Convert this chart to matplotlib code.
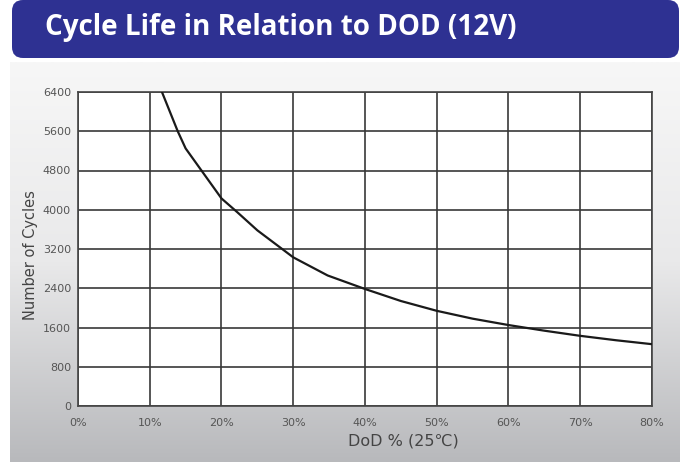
import matplotlib
matplotlib.use("Agg")
import matplotlib.pyplot as plt
from matplotlib.patches import FancyBboxPatch
from matplotlib.colors import LinearSegmentedColormap
import numpy as np

# Data
dod = [11.7, 13.9, 15.0, 17.5, 20, 22.2, 25, 30, 34.8, 40, 45, 50, 55, 60, 65, 70, 75, 80]
cycles = [6400, 5600, 5250, 4740, 4230, 3950, 3580, 3030, 2660, 2385, 2140, 1940, 1780,
          1650, 1535, 1430, 1340, 1260]
x_ticks = [0, 10, 20, 30, 40, 50, 60, 70, 80]
x_tick_labels = [f"{v}%" for v in x_ticks]
y_ticks = [0, 800, 1600, 2400, 3200, 4000, 4800, 5600, 6400]
title = "Cycle Life in Relation to DOD (12V)"
y_label = "Number of Cycles"
x_label = "DoD % (25\u2103)"

W, H = 683, 462
fig = plt.figure(figsize=(W / 100, H / 100), dpi=100)
fig.patch.set_facecolor("white")

# Background layer in pixel coordinates
bg = fig.add_axes([0, 0, 1, 1])
bg.axis("off")
cmap = LinearSegmentedColormap.from_list("g", ["#f7f7f7", "#e9e9ea", "#b8b9bc"])
grad = np.linspace(0, 1, 256)[:, None]
bg.imshow(grad, cmap=cmap, extent=[10, 680, 462, 62], aspect="auto", zorder=0)
banner = FancyBboxPatch((12, 0), 667, 58, boxstyle="round,pad=0,rounding_size=11",
                        fc="#2e3192", ec="none", zorder=1)
bg.add_patch(banner)
bg.text(45, 28, title, color="white", fontsize=20, fontweight="bold",
        family="Open Sans", va="center", ha="left", zorder=2)
bg.set_xlim(0, W)
bg.set_ylim(H, 0)

# Main chart
ax = fig.add_axes([78 / W, 1 - 406 / H, (652 - 78) / W, (406 - 92) / H])
ax.set_facecolor("white")
ax.plot(dod, cycles, color="#1a1a1a", lw=1.6, zorder=3)
ax.set_xlim(0, 80)
ax.set_ylim(0, 6400)
ax.set_xticks(x_ticks)
ax.set_xticklabels(x_tick_labels)
ax.set_yticks(y_ticks)
ax.grid(True, color="#383838", lw=1.2)
ax.set_axisbelow(True)
ax.tick_params(length=0, labelsize=8, labelcolor="#555555")
ax.tick_params(axis="x", pad=9)
ax.tick_params(axis="y", pad=5)
for s in ax.spines.values():
    s.set_color("#444444")
    s.set_linewidth(1.2)

fig.text(30 / W, 1 - 255 / H, y_label, rotation=90, fontsize=10.5, color="#444444",
         ha="center", va="center")
fig.text(403 / W, 1 - 441 / H, x_label, fontsize=11.5, color="#444444",
         ha="center", va="center")

fig.savefig("out.png", dpi=100)
